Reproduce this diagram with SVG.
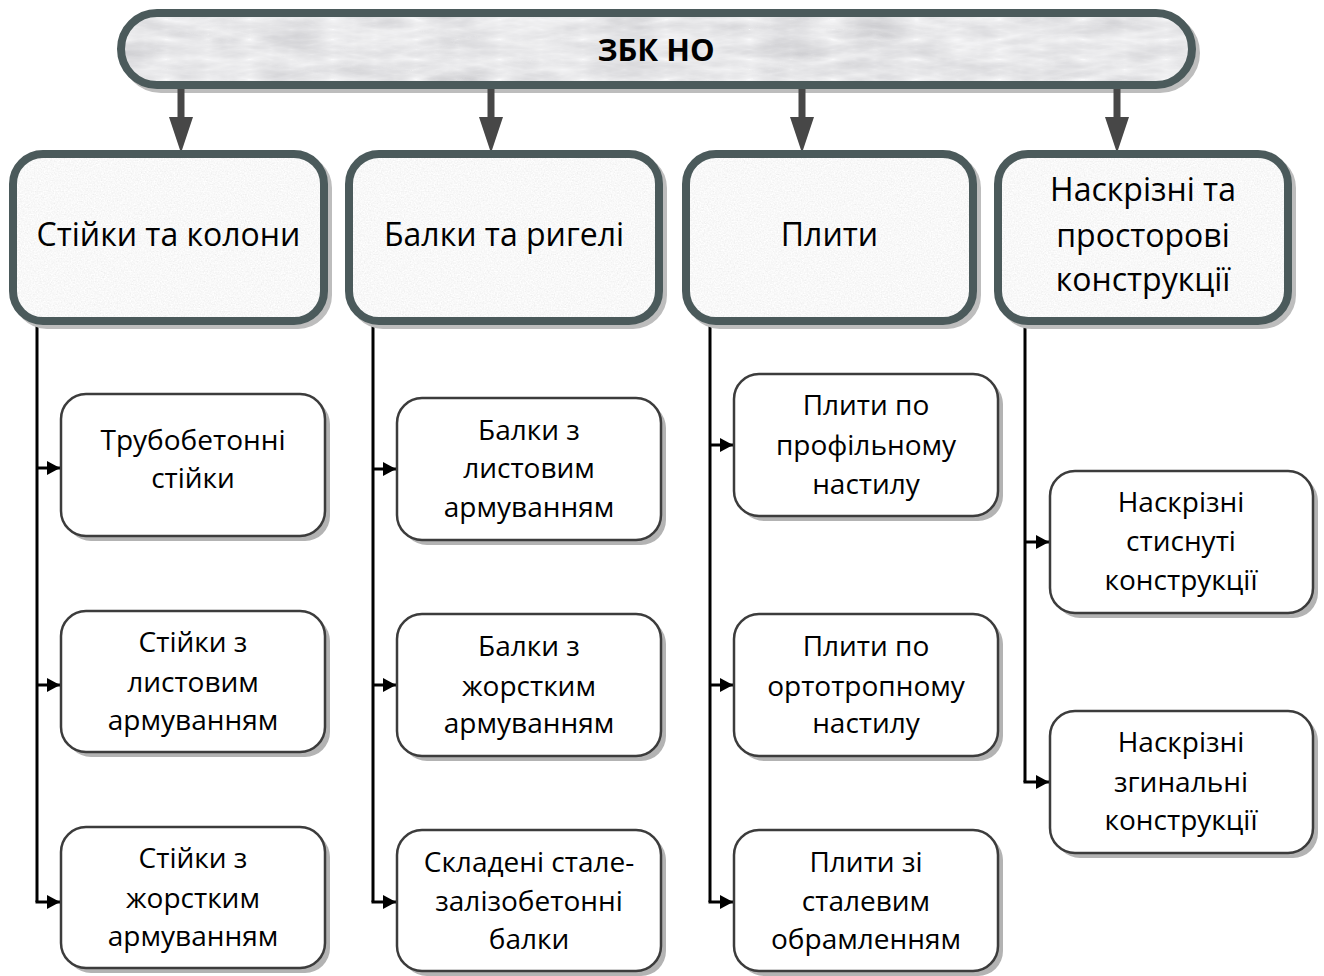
<svg xmlns="http://www.w3.org/2000/svg" width="1324" height="976" viewBox="0 0 1324 976">
<defs>
<filter id="speckle" x="0" y="0" width="100%" height="100%">
<feTurbulence type="fractalNoise" baseFrequency="0.7" numOctaves="2" seed="4" result="n"/>
<feColorMatrix in="n" type="matrix" values="0.33 0.33 0.33 0 0  0.33 0.33 0.33 0 0  0.33 0.33 0.33 0 0  0 0 0 0 1" result="g"/>
<feComponentTransfer in="g" result="t"><feFuncR type="linear" slope="0.35" intercept="0.77"/><feFuncG type="linear" slope="0.35" intercept="0.77"/><feFuncB type="linear" slope="0.35" intercept="0.77"/></feComponentTransfer>
<feComposite in="t" in2="SourceGraphic" operator="in"/>
</filter>
<filter id="marble" x="0" y="0" width="100%" height="100%">
<feTurbulence type="turbulence" baseFrequency="0.012 0.05" numOctaves="4" seed="7" result="n"/>
<feColorMatrix in="n" type="matrix" values="0.33 0.33 0.33 0 0  0.33 0.33 0.33 0 0  0.33 0.33 0.33 0 0  0 0 0 0 1" result="g"/>
<feComponentTransfer in="g" result="t"><feFuncR type="linear" slope="-0.5" intercept="0.95"/><feFuncG type="linear" slope="-0.5" intercept="0.95"/><feFuncB type="linear" slope="-0.48" intercept="0.96"/></feComponentTransfer>
<feComposite in="t" in2="SourceGraphic" operator="in"/>
</filter>
<marker id="ah" viewBox="0 0 13 14" refX="13" refY="7" markerWidth="13" markerHeight="14" markerUnits="userSpaceOnUse" orient="auto">
<path d="M0,0 L13,7 L0,14 Z" fill="#000"/>
</marker>
</defs>
<style>
.t{font-family:"Open Sans","Noto Sans","DejaVu Sans",sans-serif;fill:#000;text-anchor:middle}
.t1{font-size:31px;font-weight:bold}
.t2{font-size:32px}
.t3{font-size:28px}
.sh2{fill:#bdbdbd;stroke:#bdbdbd;stroke-width:8}
.fill2{fill:#eee}
.st2{fill:none;stroke:#4b5a5b;stroke-width:8}
.sh3{fill:#b3b3b3}
.box3{fill:#fff;stroke:#3c3c3c;stroke-width:2.5}
.main{stroke:#474747;stroke-width:7;fill:none}
.head{fill:#474747}
.br{stroke:#000;stroke-width:3;fill:none}
.ar{stroke:#000;stroke-width:3;fill:none;marker-end:url(#ah)}
</style>

<g id="root">
<rect class="sh2" x="125" y="17" width="1071" height="72" rx="36"/>
<rect x="121" y="13" width="1071" height="72" rx="36" fill="#e6e7e8"/>
<rect x="121" y="13" width="1071" height="72" rx="36" fill="#fff" filter="url(#marble)"/>
<rect class="st2" x="121" y="13" width="1071" height="72" rx="36"/>
<text class="t t1" x="656" y="61">ЗБК НО</text>
</g>

<g id="connectors">
<line class="main" x1="181" y1="89" x2="181" y2="120"/>
<polygon class="head" points="169,117 193,117 181,153"/>
<line class="main" x1="491" y1="89" x2="491" y2="120"/>
<polygon class="head" points="479,117 503,117 491,153"/>
<line class="main" x1="802" y1="89" x2="802" y2="120"/>
<polygon class="head" points="790,117 814,117 802,153"/>
<line class="main" x1="1117" y1="89" x2="1117" y2="120"/>
<polygon class="head" points="1105,117 1129,117 1117,153"/>

<path class="br" d="M37,325 V902"/>
<line class="ar" x1="37" y1="468" x2="60" y2="468"/>
<line class="ar" x1="37" y1="685" x2="60" y2="685"/>
<line class="ar" x1="35.5" y1="902" x2="60" y2="902"/>

<path class="br" d="M373,325 V902"/>
<line class="ar" x1="373" y1="469" x2="396" y2="469"/>
<line class="ar" x1="373" y1="685" x2="396" y2="685"/>
<line class="ar" x1="371.5" y1="902" x2="396" y2="902"/>

<path class="br" d="M710,325 V902"/>
<line class="ar" x1="710" y1="445" x2="733" y2="445"/>
<line class="ar" x1="710" y1="685" x2="733" y2="685"/>
<line class="ar" x1="708.5" y1="902" x2="733" y2="902"/>

<path class="br" d="M1025,325 V782"/>
<line class="ar" x1="1025" y1="542" x2="1049" y2="542"/>
<line class="ar" x1="1023.5" y1="782" x2="1049" y2="782"/>
</g>

<g id="n1">
<rect class="sh2" x="17" y="158" width="311" height="167" rx="30"/>
<rect class="fill2" x="13" y="154" width="311" height="167" rx="30"/>
<rect x="13" y="154" width="311" height="167" rx="30" fill="#fff" filter="url(#speckle)"/>
<rect class="st2" x="13" y="154" width="311" height="167" rx="30"/>
<text class="t t2" x="168.5" y="246">Стійки та колони</text>
</g>
<g id="n2">
<rect class="sh2" x="353" y="158" width="310" height="167" rx="30"/>
<rect class="fill2" x="349" y="154" width="310" height="167" rx="30"/>
<rect x="349" y="154" width="310" height="167" rx="30" fill="#fff" filter="url(#speckle)"/>
<rect class="st2" x="349" y="154" width="310" height="167" rx="30"/>
<text class="t t2" x="504" y="246">Балки та ригелі</text>
</g>
<g id="n3">
<rect class="sh2" x="690" y="158" width="287" height="167" rx="30"/>
<rect class="fill2" x="686" y="154" width="287" height="167" rx="30"/>
<rect x="686" y="154" width="287" height="167" rx="30" fill="#fff" filter="url(#speckle)"/>
<rect class="st2" x="686" y="154" width="287" height="167" rx="30"/>
<text class="t t2" x="829.5" y="246">Плити</text>
</g>
<g id="n4">
<rect class="sh2" x="1002" y="158" width="290" height="167" rx="30"/>
<rect class="fill2" x="998" y="154" width="290" height="167" rx="30"/>
<rect x="998" y="154" width="290" height="167" rx="30" fill="#fff" filter="url(#speckle)"/>
<rect class="st2" x="998" y="154" width="290" height="167" rx="30"/>
<text class="t t2" x="1143" y="201">Наскрізні та</text>
<text class="t t2" x="1143" y="247">просторові</text>
<text class="t t2" x="1143" y="291">конструкції</text>
</g>

<g id="c1a">
<rect class="sh3" x="66" y="399" width="264" height="142" rx="25"/>
<rect class="box3" x="61" y="394" width="264" height="142" rx="25"/>
<text class="t t3" x="193" y="450">Трубобетонні</text>
<text class="t t3" x="193" y="488">стійки</text>
</g>
<g id="c1b">
<rect class="sh3" x="66" y="616" width="264" height="141" rx="25"/>
<rect class="box3" x="61" y="611" width="264" height="141" rx="25"/>
<text class="t t3" x="193" y="652">Стійки з</text>
<text class="t t3" x="193" y="692">листовим</text>
<text class="t t3" x="193" y="730">армуванням</text>
</g>
<g id="c1c">
<rect class="sh3" x="66" y="832" width="264" height="141" rx="25"/>
<rect class="box3" x="61" y="827" width="264" height="141" rx="25"/>
<text class="t t3" x="193" y="868">Стійки з</text>
<text class="t t3" x="193" y="908">жорстким</text>
<text class="t t3" x="193" y="946">армуванням</text>
</g>

<g id="c2a">
<rect class="sh3" x="402" y="403" width="264" height="142" rx="25"/>
<rect class="box3" x="397" y="398" width="264" height="142" rx="25"/>
<text class="t t3" x="529" y="440">Балки з</text>
<text class="t t3" x="529" y="478">листовим</text>
<text class="t t3" x="529" y="517">армуванням</text>
</g>
<g id="c2b">
<rect class="sh3" x="402" y="619" width="264" height="142" rx="25"/>
<rect class="box3" x="397" y="614" width="264" height="142" rx="25"/>
<text class="t t3" x="529" y="656">Балки з</text>
<text class="t t3" x="529" y="696">жорстким</text>
<text class="t t3" x="529" y="733">армуванням</text>
</g>
<g id="c2c">
<rect class="sh3" x="402" y="835" width="264" height="141" rx="25"/>
<rect class="box3" x="397" y="830" width="264" height="141" rx="25"/>
<text class="t t3" x="529" y="872">Складені стале-</text>
<text class="t t3" x="529" y="911">залізобетонні</text>
<text class="t t3" x="529" y="949">балки</text>
</g>

<g id="c3a">
<rect class="sh3" x="739" y="379" width="264" height="142" rx="25"/>
<rect class="box3" x="734" y="374" width="264" height="142" rx="25"/>
<text class="t t3" x="866" y="415">Плити по</text>
<text class="t t3" x="866" y="455">профільному</text>
<text class="t t3" x="866" y="494">настилу</text>
</g>
<g id="c3b">
<rect class="sh3" x="739" y="619" width="264" height="142" rx="25"/>
<rect class="box3" x="734" y="614" width="264" height="142" rx="25"/>
<text class="t t3" x="866" y="656">Плити по</text>
<text class="t t3" x="866" y="696">ортотропному</text>
<text class="t t3" x="866" y="733">настилу</text>
</g>
<g id="c3c">
<rect class="sh3" x="739" y="835" width="264" height="141" rx="25"/>
<rect class="box3" x="734" y="830" width="264" height="141" rx="25"/>
<text class="t t3" x="866" y="872">Плити зі</text>
<text class="t t3" x="866" y="911">сталевим</text>
<text class="t t3" x="866" y="949">обрамленням</text>
</g>

<g id="c4a">
<rect class="sh3" x="1055" y="476" width="263" height="142" rx="25"/>
<rect class="box3" x="1050" y="471" width="263" height="142" rx="25"/>
<text class="t t3" x="1181" y="512">Наскрізні</text>
<text class="t t3" x="1181" y="551">стиснуті</text>
<text class="t t3" x="1181" y="590">конструкції</text>
</g>
<g id="c4b">
<rect class="sh3" x="1055" y="716" width="263" height="142" rx="25"/>
<rect class="box3" x="1050" y="711" width="263" height="142" rx="25"/>
<text class="t t3" x="1181" y="752">Наскрізні</text>
<text class="t t3" x="1181" y="792">згинальні</text>
<text class="t t3" x="1181" y="830">конструкції</text>
</g>
</svg>
